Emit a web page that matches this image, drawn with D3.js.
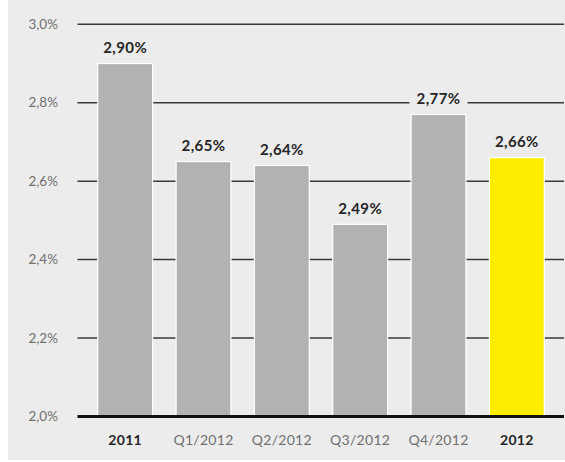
<!DOCTYPE html>
<html>
<head>
<meta charset="utf-8">
<script src="https://cdn.jsdelivr.net/npm/d3@7"></script>
<style>
  html, body { margin: 0; padding: 0; background: #fff; }
  svg { display: block; font-family: "Century Gothic", Futura, Lato, sans-serif; }
</style>
</head>
<body>
<svg id="chart" width="565" height="462"></svg>
<script>
// values
const categories = ['2011', 'Q1/2012', 'Q2/2012', 'Q3/2012', 'Q4/2012', '2012']
const values = [2.90, 2.65, 2.64, 2.49, 2.77, 2.66]
const boldCategories = ['2011', '2012']
const highlight = '2012'
const yTicks = [2.0, 2.2, 2.4, 2.6, 2.8, 3.0]

const W = 565
const bg = '#ececec'
const svg = d3.select('#chart')

// panel
svg.append('rect')
  .attr('x', 8).attr('y', 0)
  .attr('width', W - 8).attr('height', 460)
  .attr('fill', bg)

const x = d3.scaleBand()
  .domain(categories)
  .range([86, 556])
  .paddingInner(0.3)
  .paddingOuter(0.15)

const y = d3.scaleLinear()
  .domain([2.0, 3.0])
  .range([416.5, 24.3])

const fmt = v => d3.format('.1f')(v).replace('.', ',') + '%'
const fmtLabel = v => d3.format('.2f')(v).replace('.', ',') + '%'

// grid lines
svg.append('g')
  .selectAll('line')
  .data(yTicks.filter(t => t > 2.0))
  .join('line')
  .attr('x1', 77.5).attr('x2', 564)
  .attr('y1', d => y(d)).attr('y2', d => y(d))
  .attr('stroke', '#3a3a3a')
  .attr('stroke-width', 1.5)

// y tick labels
svg.append('g')
  .selectAll('text')
  .data(yTicks)
  .join('text')
  .attr('x', 58)
  .attr('y', d => y(d))
  .attr('dy', '0.35em')
  .attr('text-anchor', 'end')
  .attr('font-size', 13.5)
  .attr('fill', '#707070')
  .text(fmt)

// bars
svg.append('g')
  .selectAll('rect')
  .data(values)
  .join('rect')
  .attr('x', (d, i) => x(categories[i]))
  .attr('y', d => y(d))
  .attr('width', x.bandwidth())
  .attr('height', d => y(2.0) - y(d))
  .attr('fill', (d, i) => categories[i] === highlight ? '#ffed00' : '#b1b2b4')
  .attr('stroke', '#fff')
  .attr('stroke-width', 1.2)

// baseline
svg.append('line')
  .attr('x1', 77.5).attr('x2', 564)
  .attr('y1', y(2.0)).attr('y2', y(2.0))
  .attr('stroke', '#111')
  .attr('stroke-width', 3)

// value labels with knock-out background
const labels = svg.append('g')
  .selectAll('g')
  .data(values)
  .join('g')
  .attr('transform', (d, i) => `translate(${x(categories[i]) + x.bandwidth() / 2},${y(d) - 16})`)

labels.append('rect')
  .attr('x', -29).attr('y', -9)
  .attr('width', 58).attr('height', 18)
  .attr('fill', bg)

labels.append('text')
  .attr('text-anchor', 'middle')
  .attr('dy', '0.35em')
  .attr('font-size', 15)
  .attr('font-weight', 'bold')
  .attr('letter-spacing', 0.4)
  .attr('fill', '#262626')
  .text(fmtLabel)

// category labels
svg.append('g')
  .selectAll('text')
  .data(categories)
  .join('text')
  .attr('x', d => x(d) + x.bandwidth() / 2)
  .attr('y', 440)
  .attr('dy', '0.35em')
  .attr('text-anchor', 'middle')
  .attr('font-size', 14)
  .attr('letter-spacing', 0.3)
  .attr('font-weight', d => boldCategories.includes(d) ? 'bold' : 'normal')
  .attr('fill', d => boldCategories.includes(d) ? '#262626' : '#707070')
  .text(d => d)
</script>
</body>
</html>
